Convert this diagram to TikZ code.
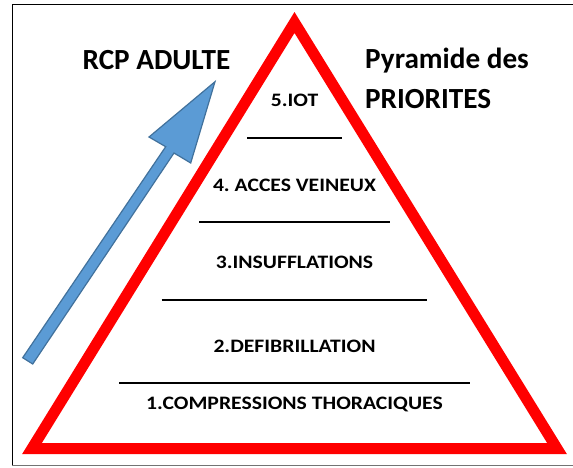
\documentclass[tikz,border=0pt]{standalone}
\usepackage{fontspec}
\setmainfont{Carlito}
\newfontfamily\levelfont[FakeStretch=1.14]{Carlito}
\frenchspacing
\definecolor{pyrred}{RGB}{255,0,0}
\definecolor{arrowfill}{RGB}{91,155,213}
\definecolor{arrowedge}{RGB}{65,113,156}
\begin{document}
\begin{tikzpicture}[x=1pt,y=-1pt,
  title/.style={font=\bfseries\fontsize{29.2}{34}\selectfont, anchor=base, inner sep=0pt},
  level/.style={font=\levelfont\bfseries\fontsize{19}{23}\selectfont, anchor=base, inner sep=0pt},
  sepline/.style={line width=2.2pt, black},
  frame/.style={line width=1pt}]
\useasboundingbox (0,0) rectangle (573,467);

% page frame
\draw[frame, black] (12,465) -- (12,4) -- (575,4);
\draw[frame, black!55] (12,465) -- (575,465);

% pyramid outline
\coordinate (apex) at (294.5,22.5);
\coordinate (bl) at (32,448.5);
\coordinate (br) at (557,448.5);
\draw[pyrred, line width=11pt, line join=miter, miter limit=10] (apex) -- (br) -- (bl) -- cycle;

% rising arrow
\coordinate (tailL) at (22.7,357.7);
\coordinate (tailR) at (32.7,364);
\coordinate (neckL) at (165.7,146.7);
\coordinate (neckR) at (174,153);
\coordinate (barbL) at (149,137);
\coordinate (barbR) at (190.7,163);
\coordinate (tip) at (215,81.7);
\draw[fill=arrowfill, draw=arrowedge, line width=1.2pt, line join=miter]
  (tailL) -- (neckL) -- (barbL) -- (tip) -- (barbR) -- (neckR) -- (tailR) -- cycle;

% titles
\node[title] (rcp) at (156.5,69) {RCP ADULTE};
\node[title, anchor=base west] (pyr) at (365,68) {Pyramide des};
\node[title, anchor=base west] (prio) at (365,108) {PRIORITES};

% levels of the pyramid
\node[level] (l5) at (294.5,106.7) {5.IOT};
\draw[sepline] (247,137.7) -- (342,137.7);
\node[level] (l4) at (294.5,191) {4. ACCES VEINEUX};
\draw[sepline] (199,221.7) -- (390,221.7);
\node[level] (l3) at (294.5,268.3) {3.INSUFFLATIONS};
\draw[sepline] (161.7,300) -- (427,300);
\node[level] (l2) at (294.5,352.7) {2.DEFIBRILLATION};
\draw[sepline] (119,383.3) -- (470,383.3);
\node[level] (l1) at (294.5,409.3) {1.COMPRESSIONS THORACIQUES};
\end{tikzpicture}
\end{document}
